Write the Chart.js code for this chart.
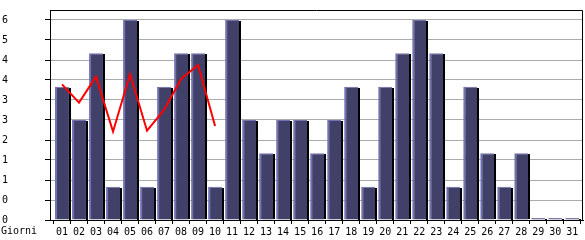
<!DOCTYPE html>
<html>
<head>
<meta charset="utf-8">
<script src="https://cdn.jsdelivr.net/npm/chart.js@4/dist/chart.umd.min.js"></script>
<style>
html,body{margin:0;padding:0;background:#fff;}
#wrap{width:585px;height:240px;position:relative;}
</style>
</head>
<body>
<div id="wrap"><canvas id="c" width="585" height="240"></canvas></div>
<script>
const days = ["01","02","03","04","05","06","07","08","09","10","11","12","13","14","15","16","17","18","19","20","21","22","23","24","25","26","27","28","29","30","31"];
const visits = [4,3,5,1,6,1,4,5,5,1,6,3,2,3,3,2,3,4,1,4,5,6,5,1,4,2,1,2,0,0,0];
const trend = [4.07,3.52,4.30,2.65,4.37,2.68,3.30,4.23,4.65,2.82,null,null,null,null,null,null,null,null,null,null,null,null,null,null,null,null,null,null,null,null,null];
const yTicks = [0,0.6,1.2,1.8,2.4,3.0,3.6,4.2,4.8,5.4,6.0];
const yMax = 6.3;
const xMin = 0.295, xMax = 31.63;
const xAxisName = "Giorni";

const FONT = {family: "'DejaVu Sans Mono', monospace", size: 10};

const shadowPlugin = {
  id: 'barShadow',
  afterDatasetDraw(chart, args) {
    if (args.index !== 0) return;
    const ctx = chart.ctx;
    ctx.save();
    ctx.fillStyle = '#000';
    args.meta.data.forEach(bar => {
      const p = bar.getProps(['x','y','base','width'], true);
      const right = p.x + p.width / 2;
      const top = Math.min(p.y, p.base);
      ctx.fillRect(Math.round(right), Math.round(top) + 1, 2, Math.round(p.base - top) - 1);
    });
    ctx.restore();
  }
};

const framePlugin = {
  id: 'frame',
  afterDraw(chart) {
    const ctx = chart.ctx, a = chart.chartArea;
    ctx.save();
    ctx.strokeStyle = '#000';
    ctx.lineWidth = 1;
    ctx.beginPath();
    ctx.moveTo(Math.round(a.left) + 0.5, Math.round(a.bottom) + 0.5);
    ctx.lineTo(Math.round(a.left) + 0.5, Math.round(a.top) + 0.5);
    ctx.lineTo(Math.round(a.right) - 0.5, Math.round(a.top) + 0.5);
    ctx.lineTo(Math.round(a.right) - 0.5, Math.round(a.bottom) + 0.5);
    ctx.stroke();
    const xs = chart.scales.x;
    ctx.fillStyle = '#000';
    ctx.font = "10px 'DejaVu Sans Mono', monospace";
    ctx.textBaseline = 'middle';
    ctx.textAlign = 'left';
    ctx.fillText(xAxisName, 1, xs.top + 11);
    ctx.restore();
  }
};

new Chart(document.getElementById('c'), {
  data: {
    labels: days,
    datasets: [
      {
        type: 'bar',
        data: visits,
        backgroundColor: '#404068',
        borderColor: '#7272b2',
        borderWidth: {left: 2, top: 1, right: 0, bottom: 0},
        borderSkipped: false,
        barPercentage: 0.82,
        categoryPercentage: 1.0,
        minBarLength: 2,
        order: 2
      },
      {
        type: 'line',
        data: trend,
        borderColor: '#ff0000',
        borderWidth: 2,
        pointRadius: 0,
        tension: 0,
        spanGaps: false,
        order: 1
      }
    ]
  },
  options: {
    responsive: false,
    animation: false,
    devicePixelRatio: 1,
    layout: {padding: {left: 2, right: 2, top: 10, bottom: 0}},
    plugins: {legend: {display: false}, tooltip: {enabled: false}},
    scales: {
      x: {
        type: 'linear',
        min: xMin,
        max: xMax,
        offset: false,
        afterBuildTicks(s) { s.ticks = days.map(d => ({value: Number(d)})); },
        grid: {drawOnChartArea: false, drawTicks: true, tickLength: 4, tickColor: '#000'},
        border: {display: true, color: '#000'},
        ticks: {color: '#000', font: FONT, padding: 2, maxRotation: 0, autoSkip: false,
          callback: v => String(v).padStart(2, '0')},
        afterFit(s) { s.height = 20; }
      },
      y: {
        min: 0,
        max: yMax,
        afterBuildTicks(s) { s.ticks = yTicks.map(v => ({value: v})); },
        grid: {color: '#aaaaaa', tickColor: '#000', tickLength: 5, drawTicks: true},
        border: {display: true, color: '#000'},
        ticks: {
          color: '#000', font: FONT, crossAlign: 'far', padding: 2,
          callback: v => String(Math.floor(v + 1e-9))
        },
        afterFit(s) { s.width = 48; }
      }
    }
  },
  plugins: [shadowPlugin, framePlugin]
});
</script>
</body>
</html>
